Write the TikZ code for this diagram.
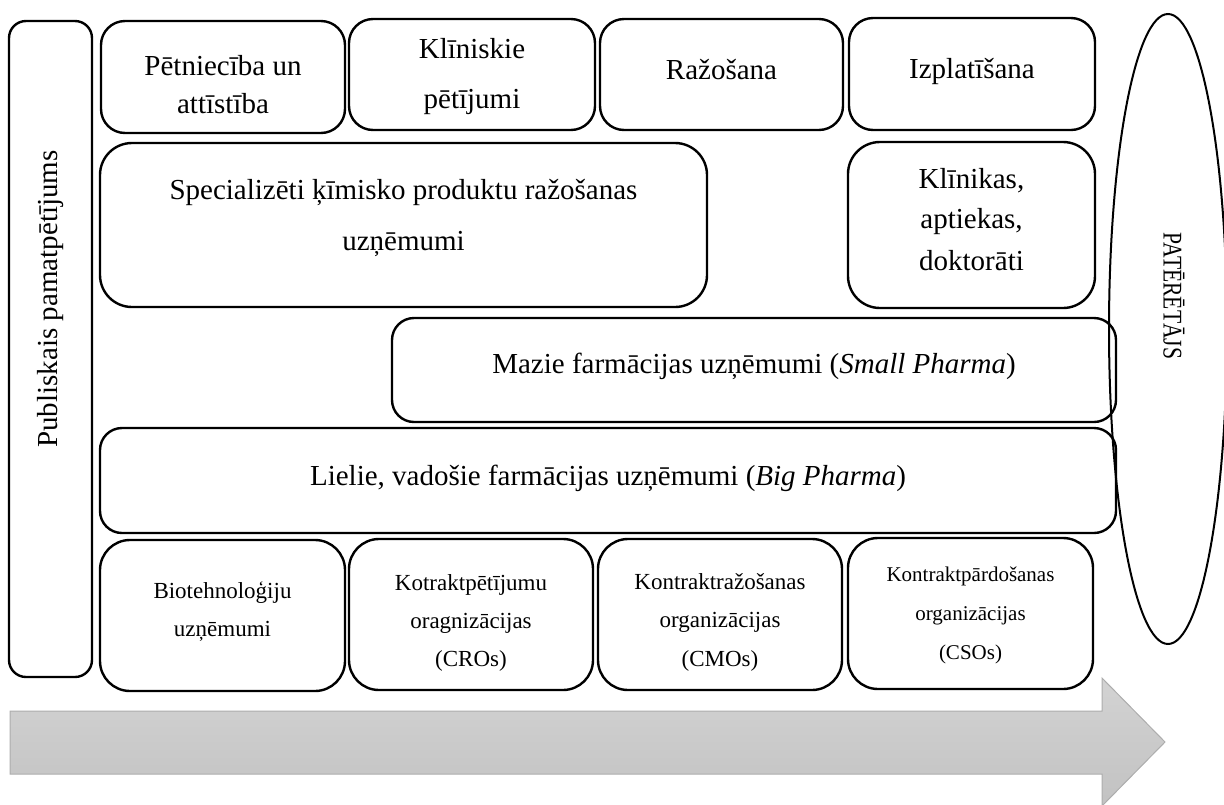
\documentclass[tikz,border=0pt]{standalone}
\usepackage{fontspec}
\setmainfont{Liberation Serif}
\usetikzlibrary{shapes.geometric}
\definecolor{arrowtop}{HTML}{D3D3D3}
\definecolor{arrowbot}{HTML}{C2C2C2}
\definecolor{arrowline}{HTML}{ADADAD}
\begin{document}
\begin{tikzpicture}[x=1pt,y=-1pt,
  box/.style={draw=black, line width=2.4pt, rounded corners=#1, inner sep=0pt, rectangle},
  box/.default=24pt,
  tx/.style={font=\fontsize{29}{35}\selectfont, anchor=base, inner sep=0pt},
  txs/.style={font=\fontsize{23}{28}\selectfont, anchor=base, inner sep=0pt},
  txxs/.style={font=\fontsize{21}{25}\selectfont, anchor=base, inner sep=0pt}]
\useasboundingbox (0,0) rectangle (1224,804);

% big arrow
\shade[top color=arrowtop, bottom color=arrowbot, draw=arrowline, line width=1pt]
  (10,711) -- (1102,711) -- (1102,678) -- (1165,742) -- (1102,806) -- (1102,774) -- (10,774) -- cycle;

% left vertical box
\node[box=17pt, minimum width=83pt, minimum height=656pt] (pub) at (50.5,349) {};
\node[tx, rotate=90, anchor=center] (tpub) at (51,299) {Publiskais pamatpētījums};

% top row
\node[box, minimum width=244pt, minimum height=112pt] (rd) at (223,77) {};
\node[box, minimum width=246pt, minimum height=111pt] (clin) at (472,74.5) {};
\node[box, minimum width=243pt, minimum height=111pt] (man) at (721.5,74.5) {};
\node[box, minimum width=246pt, minimum height=112pt] (dist) at (972,74) {};
\node[tx] (trd1) at (223,75) {Pētniecība un};
\node[tx] (trd2) at (223,113) {attīstība};
\node[tx] (tcl1) at (472,58) {Klīniskie};
\node[tx] (tcl2) at (472,108) {pētījumi};
\node[tx] (tman) at (721.5,79) {Ražošana};
\node[tx] (tdist) at (972,78) {Izplatīšana};

% second row
\node[box=32pt, minimum width=607pt, minimum height=164pt] (spec) at (403.5,225) {};
\node[tx] (tsp1) at (403.5,199) {Specializēti ķīmisko produktu ražošanas};
\node[tx] (tsp2) at (403.5,250) {uzņēmumi};
\node[box=32pt, minimum width=247pt, minimum height=166pt] (klin) at (971.5,225) {};
\node[tx] (tkl1) at (971.5,188) {Klīnikas,};
\node[tx] (tkl2) at (971.5,228) {aptiekas,};
\node[tx] (tkl3) at (971.5,270) {doktorāti};

% small and big pharma
\node[box=22pt, minimum width=724pt, minimum height=104pt] (small) at (754,370) {};
\node[tx] (tsmall) at (754,373) {Mazie farmācijas uzņēmumi (\textit{Small Pharma})};
\node[box=22pt, minimum width=1016pt, minimum height=105pt] (big) at (608,480.5) {};
\node[tx] (tbig) at (608,485) {Lielie, vadošie farmācijas uzņēmumi (\textit{Big Pharma})};

% bottom row
\node[box=30pt, minimum width=245pt, minimum height=151pt] (bio) at (222.5,615.5) {};
\node[box=30pt, minimum width=244pt, minimum height=151pt] (cro) at (471,614.5) {};
\node[box=30pt, minimum width=244pt, minimum height=151pt] (cmo) at (720,614.5) {};
\node[box=30pt, minimum width=245pt, minimum height=151pt] (cso) at (970.5,613.5) {};
\node[txs] (tbio1) at (222.5,598) {Biotehnoloģiju};
\node[txs] (tbio2) at (222.5,636) {uzņēmumi};
\node[txs] (tcro1) at (471,590) {Kotraktpētījumu};
\node[txs] (tcro2) at (471,628) {oragnizācijas};
\node[txs] (tcro3) at (471,666) {(CROs)};
\node[txs] (tcmo1) at (720,589) {Kontraktražošanas};
\node[txs] (tcmo2) at (720,627) {organizācijas};
\node[txs] (tcmo3) at (720,666) {(CMOs)};
\node[txxs] (tcso1) at (970.5,581) {Kontraktpārdošanas};
\node[txxs] (tcso2) at (970.5,620) {organizācijas};
\node[txxs] (tcso3) at (970.5,659) {(CSOs)};

% consumer ellipse
\node[draw=black, line width=2pt, ellipse, minimum width=118pt, minimum height=630pt, inner sep=0pt] (cons) at (1168,329) {};
\node[font=\fontsize{27}{30}\selectfont, rotate=-90, xscale=0.8, inner sep=0pt] (tcons) at (1174,296) {PATĒRĒTĀJS};
\end{tikzpicture}
\end{document}
